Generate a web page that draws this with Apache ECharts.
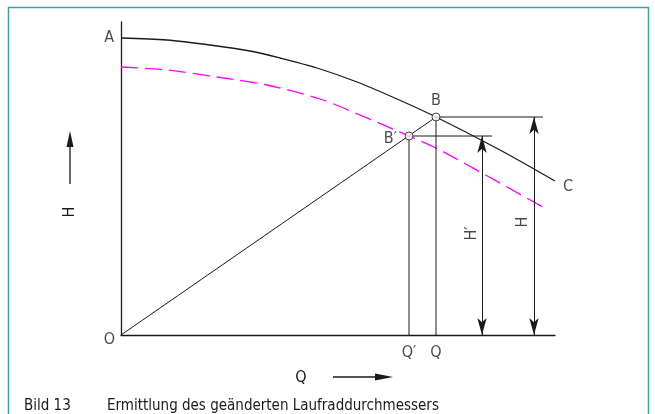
<!DOCTYPE html>
<html>
<head>
<meta charset="utf-8">
<script src="https://cdn.jsdelivr.net/npm/echarts@6/dist/echarts.min.js"></script>
<style>
  html, body { margin: 0; padding: 0; background: #fff; }
  #chart { width: 655px; height: 414px; }
</style>
</head>
<body>
<div id="chart"></div>
<script>
// pump curve A-B-C and the reduced-impeller curve (dashed), in drawing units
const curveA = [[0, 297], [46, 295], [89, 290], [129, 284], [159, 277], [196, 267], [236, 253], [276, 236], [315, 218], [379, 185], [434, 154]];
const curveReduced = [[0, 268], [46, 265], [96, 258], [146, 250], [199, 236], [239, 220], [274, 205], [288, 199], [319, 185], [427, 125]];
const pointB = [315, 218];
const pointB2 = [288, 199];
// dimension lines for H and H'
const dimArrowX = [413, 361];
const extLineEnd = [422, 371];
const axisMax = [434, 313];

const font = "'Liberation Sans Narrow', 'DejaVu Sans Condensed', sans-serif";
const ink = '#1a1a1a';

const chart = echarts.init(document.getElementById('chart'), null, { renderer: 'canvas' });

const thin = { color: ink, width: 1 };

function seg(name, pts, style) {
  return {
    name: name,
    type: 'line',
    data: pts,
    symbol: 'none',
    lineStyle: style || thin,
    silent: true,
    z: 3
  };
}

const labelStyle = { color: ink, fontFamily: font, fontSize: 16 };

const series = [
  {
    name: 'Kennlinie',
    type: 'line',
    data: curveA,
    smooth: 0.3,
    symbol: 'none',
    lineStyle: { color: ink, width: 1.3 },
    z: 3
  },
  {
    name: 'geänderter Durchmesser',
    type: 'line',
    data: curveReduced,
    smooth: 0.3,
    symbol: 'none',
    lineStyle: { color: '#ff00ff', width: 1.3, type: [17, 7] },
    z: 2
  },
  seg('Fahrstrahl', [[0, 0], pointB]),
  seg('Q2', [[pointB2[0], 0], pointB2]),
  seg('Q', [[pointB[0], 0], pointB]),
  seg('HB', [pointB, [extLineEnd[0], pointB[1]]]),
  seg('HB2', [pointB2, [extLineEnd[1], pointB2[1]]]),
  {
    name: 'Bemaßung',
    type: 'line',
    data: [],
    markLine: {
      silent: true,
      symbol: ['arrow', 'arrow'],
      symbolSize: [7, 17],
      label: { show: false },
      lineStyle: { color: ink, width: 1, type: 'solid' },
      data: [
        [{ coord: [dimArrowX[0], 0] }, { coord: [dimArrowX[0], pointB[1]] }],
        [{ coord: [dimArrowX[1], 0] }, { coord: [dimArrowX[1], pointB2[1]] }]
      ]
    }
  },
  {
    name: 'Punkte',
    type: 'scatter',
    data: [pointB, pointB2],
    symbol: 'circle',
    symbolSize: 8,
    itemStyle: { color: '#fff', borderColor: ink, borderWidth: 1 },
    z: 5
  },
  {
    name: 'Beschriftung',
    type: 'scatter',
    symbolSize: 0,
    z: 6,
    label: { show: true, ...labelStyle },
    data: [
      { value: curveA[0], label: { formatter: 'A', position: 'left', distance: 7 } },
      { value: pointB, label: { formatter: 'B', position: 'top', distance: 8 } },
      { value: pointB2, label: { formatter: 'B\u2032', position: 'left', distance: 12, offset: [0, 3] } },
      { value: curveA[curveA.length - 1], label: { formatter: 'C', position: 'right', distance: 8, offset: [0, 6] } },
      { value: [0, 0], label: { formatter: 'O', position: 'left', distance: 6, offset: [0, 5] } },
      { value: [pointB2[0], 0], label: { formatter: 'Q\u2032', position: 'bottom', distance: 10 } },
      { value: [pointB[0], 0], label: { formatter: 'Q', position: 'bottom', distance: 10 } },
      { value: [dimArrowX[0], pointB[1] / 2], label: { formatter: 'H', position: 'inside', rotate: 90, offset: [4, -11] } },
      { value: [dimArrowX[1], pointB2[1] / 2], label: { formatter: 'H\u2032', position: 'inside', rotate: 90, offset: [2, -10] } }
    ]
  }
];

chart.setOption({
  animation: false,
  backgroundColor: '#fff',
  grid: { left: 121, top: 22, width: axisMax[0], height: axisMax[1] },
  xAxis: {
    type: 'value', min: 0, max: axisMax[0],
    axisLine: { show: true, lineStyle: { color: ink, width: 1.3 } },
    axisTick: { show: false }, axisLabel: { show: false }, splitLine: { show: false }
  },
  yAxis: {
    type: 'value', min: 0, max: axisMax[1],
    axisLine: { show: true, lineStyle: { color: ink, width: 1.3 } },
    axisTick: { show: false }, axisLabel: { show: false }, splitLine: { show: false }
  },
  graphic: [
    { type: 'rect', shape: { x: 8.5, y: 7.5, width: 640, height: 430 }, style: { fill: 'none', stroke: '#3aa59c', lineWidth: 1.5 }, silent: true },
    // H arrow on the left
    { type: 'line', shape: { x1: 70, y1: 184, x2: 70, y2: 142 }, style: { stroke: ink, lineWidth: 1.3 } },
    { type: 'polygon', shape: { points: [[70, 131], [66.5, 147], [73.5, 147]] }, style: { fill: ink } },
    { type: 'text', x: 70, y: 212, rotation: Math.PI / 2, style: { text: 'H', fill: ink, font: '16px ' + font, align: 'center', verticalAlign: 'middle' } },
    // Q arrow at the bottom
    { type: 'text', x: 301, y: 378, style: { text: 'Q', fill: ink, font: '16px ' + font, align: 'center', verticalAlign: 'middle' } },
    { type: 'line', shape: { x1: 333, y1: 377, x2: 378, y2: 377 }, style: { stroke: ink, lineWidth: 1.3 } },
    { type: 'polygon', shape: { points: [[393, 377], [375, 373.5], [375, 380.5]] }, style: { fill: ink } },
    // caption
    { type: 'text', x: 24, y: 406, style: { text: 'Bild 13', fill: ink, font: '15px ' + font, verticalAlign: 'middle' } },
    { type: 'text', x: 107, y: 406, style: { text: 'Ermittlung des geänderten Laufraddurchmessers', fill: ink, font: '15px ' + font, verticalAlign: 'middle' } }
  ],
  series: series
});
</script>
</body>
</html>
